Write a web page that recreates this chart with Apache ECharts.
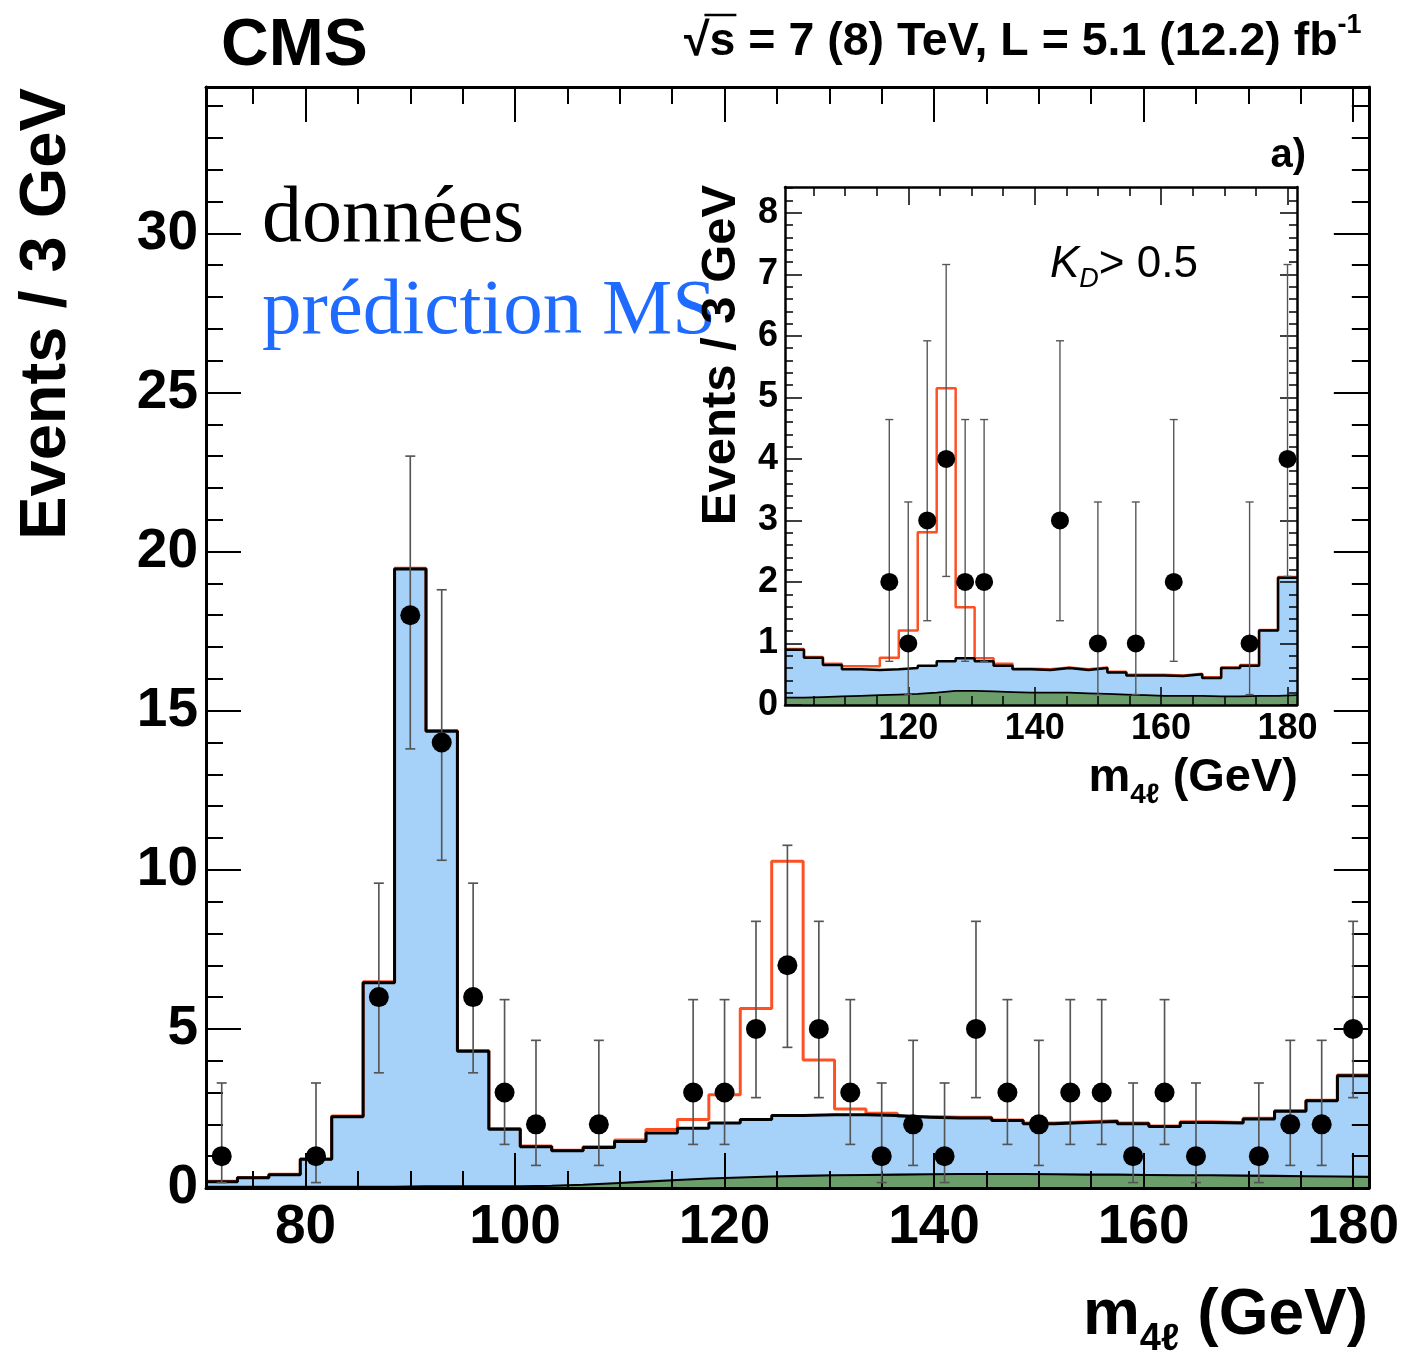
<!DOCTYPE html>
<html><head><meta charset="utf-8">
<script src="https://cdn.jsdelivr.net/npm/echarts@6/dist/echarts.min.js"></script>
<style>html,body{margin:0;padding:0;background:#fff}#c{width:1402px;height:1353px}</style>
</head><body><div id="c"></div><script>
// ---------------- DATA ----------------
const BIN_W = 3;
const mainCenters = [72,75,78,81,84,87,90,93,96,99,102,105,108,111,114,117,120,123,126,129,132,135,138,141,144,147,150,153,156,159,162,165,168,171,174,177,180];
const mainCounts  = [1,0,0,1,0,6,18,14,6,3,2,0,2,0,0,3,3,5,7,5,3,1,2,1,5,3,2,3,3,1,3,1,0,1,2,2,5];
const mainErrLow  = [0.17,null,null,0.17,null,3.62,13.8,10.3,3.62,1.37,0.71,null,0.71,null,null,1.37,1.37,2.84,4.42,2.84,1.37,0.17,0.71,0.17,2.84,1.37,0.71,1.37,1.37,0.17,1.37,0.17,null,0.17,0.71,0.71,2.84];
const mainErrHigh = [3.30,null,null,3.30,null,9.58,23.0,18.8,9.58,5.92,4.64,null,4.64,null,null,5.92,5.92,8.38,10.77,8.38,5.92,3.30,4.64,3.30,8.38,5.92,4.64,5.92,5.92,3.30,5.92,3.30,null,3.30,4.64,4.64,8.38];
const mainBkg     = [0.2,0.32,0.42,0.9,2.24,6.45,19.45,14.35,4.3,1.85,1.3,1.17,1.27,1.46,1.73,1.88,2.04,2.15,2.28,2.3,2.3,2.28,2.22,2.2,2.2,2.12,2.02,2.06,2.09,2.02,1.93,2.06,2.04,2.17,2.41,2.74,3.53];
const mainSignal  = [0.01,0.01,0.01,0.01,0.02,0.03,0.03,0.03,0.02,0.02,0.02,0.02,0.03,0.05,0.11,0.27,0.89,3.49,7.99,1.72,0.18,0.07,0.03,0.02,0.02,0.02,0.02,0.02,0.02,0.02,0.02,0.02,0.02,0.02,0.02,0.02,0.02];
const mainZX      = [0.04,0.04,0.04,0.04,0.04,0.04,0.05,0.05,0.05,0.05,0.07,0.1,0.15,0.2,0.25,0.3,0.33,0.36,0.38,0.4,0.41,0.42,0.43,0.44,0.44,0.44,0.43,0.42,0.42,0.41,0.4,0.4,0.39,0.38,0.37,0.36,0.35];

const insetCenters = [102,105,108,111,114,117,120,123,126,129,132,135,138,141,144,147,150,153,156,159,162,165,168,171,174,177,180];
const insetCounts  = [0,0,0,0,0,2,1,3,4,2,2,0,0,0,3,0,1,0,1,0,2,0,0,0,1,0,4];
const insetErrLow  = [null,null,null,null,null,0.71,0.17,1.37,2.09,0.71,0.71,null,null,null,1.37,null,0.17,null,0.17,null,0.71,null,null,null,0.17,null,2.09];
const insetErrHigh = [null,null,null,null,null,4.64,3.30,5.92,7.16,4.64,4.64,null,null,null,5.92,null,3.30,null,3.30,null,4.64,null,null,null,3.30,null,7.16];
const insetBkg     = [0.9,0.77,0.65,0.58,0.57,0.58,0.6,0.64,0.71,0.76,0.71,0.64,0.58,0.57,0.6,0.57,0.6,0.53,0.48,0.48,0.47,0.5,0.44,0.6,0.64,1.21,2.07];
const insetSignal  = [0.01,0.01,0.02,0.05,0.06,0.19,0.61,2.17,4.44,0.83,0.05,0.03,0.01,0.01,0.01,0.01,0.01,0.01,0.01,0.01,0.01,0.01,0.01,0.01,0.01,0.01,0.01];
const insetZX      = [0.12,0.13,0.14,0.15,0.16,0.17,0.18,0.2,0.23,0.23,0.22,0.21,0.2,0.2,0.2,0.19,0.18,0.17,0.16,0.15,0.15,0.15,0.14,0.14,0.15,0.15,0.16];

// tick labels
const mainXTicks  = [80,100,120,140,160,180];
const mainXMinor  = [75,85,90,95,105,110,115,125,130,135,145,150,155,165,170,175];
const mainYTicks  = [0,5,10,15,20,25,30];
const insetXTicks = [120,140,160,180];
const insetXMinor = [105,110,115,125,130,135,145,150,155,165,170,175];
const insetYTicks = [0,1,2,3,4,5,6,7,8];

const MAIN_X = [70.5, 181.5], MAIN_Y = [0, 34.6];
const INSET_X = [100.5, 181.5], INSET_Y = [0, 8.42];

// ---------------- HELPERS ----------------
const SANS = '"Liberation Sans", Arial, Helvetica, sans-serif';
const SERIF = '"Liberation Serif", "Times New Roman", serif';
const C_BLUE = '#a6d2fa', C_GREEN = '#6c9e6c', C_SIG = '#ff5024';

function range(a, b, s) { const r = []; for (let v = a; v <= b + 1e-9; v += s) r.push(+v.toFixed(4)); return r; }
const mainYMinor = range(0, 34, 1).filter(v => v % 5 !== 0);
const insetYMinor = range(0, 8.4, 0.2).filter(v => Math.abs(v - Math.round(v)) > 1e-6);

function steps(centers, vals, add) {
  const out = [];
  centers.forEach((c, i) => {
    const v = vals[i] + (add ? add[i] : 0);
    out.push([c - BIN_W / 2, v], [c + BIN_W / 2, v]);
  });
  return out;
}

function axis(grid, pos, ext, ticks, len, lineW, tickW, label) {
  return {
    type: 'value', gridIndex: grid, position: pos, min: ext[0], max: ext[1], z: 10,
    axisLine: { show: lineW > 0, onZero: false, lineStyle: { color: '#000', width: lineW } },
    axisTick: { show: true, inside: true, length: len, customValues: ticks, lineStyle: { color: '#000', width: tickW } },
    axisLabel: label ? Object.assign({ show: true, customValues: ticks, color: '#000', fontFamily: SANS, fontWeight: 'bold' }, label) : { show: false },
    splitLine: { show: false }, minorTick: { show: false }
  };
}

const xAxis = [
  axis(0, 'bottom', MAIN_X, mainXTicks, 35, 3, 2, { fontSize: 55, margin: 12 }),
  axis(0, 'bottom', MAIN_X, mainXMinor, 17, 0, 2),
  axis(0, 'top', MAIN_X, mainXTicks, 35, 3, 2),
  axis(0, 'top', MAIN_X, mainXMinor, 17, 0, 2),
  axis(1, 'bottom', INSET_X, insetXTicks, 18, 2.5, 1.5, { fontSize: 36, margin: 6 }),
  axis(1, 'bottom', INSET_X, insetXMinor, 9, 0, 1.5),
  axis(1, 'top', INSET_X, insetXTicks, 18, 2.5, 1.5),
  axis(1, 'top', INSET_X, insetXMinor, 9, 0, 1.5)
];
const yAxis = [
  axis(0, 'left', MAIN_Y, mainYTicks, 35, 3, 2, { fontSize: 55, margin: 8 }),
  axis(0, 'left', MAIN_Y, mainYMinor, 17, 0, 2),
  axis(0, 'right', MAIN_Y, mainYTicks, 35, 3, 2),
  axis(0, 'right', MAIN_Y, mainYMinor, 17, 0, 2),
  axis(1, 'left', INSET_Y, insetYTicks, 17, 2.5, 1.5, { fontSize: 36, margin: 7 }),
  axis(1, 'left', INSET_Y, insetYMinor, 8, 0, 1.5),
  axis(1, 'right', INSET_Y, insetYTicks, 17, 2.5, 1.5),
  axis(1, 'right', INSET_Y, insetYMinor, 8, 0, 1.5)
];

function errSeries(xi, yi, centers, lo, hi, cap, w) {
  const data = [];
  centers.forEach((c, i) => { if (lo[i] != null) data.push([c, lo[i], hi[i]]); });
  return {
    type: 'custom', xAxisIndex: xi, yAxisIndex: yi, z: 20, silent: true, data,
    renderItem: (params, api) => {
      const p1 = api.coord([api.value(0), api.value(1)]);
      const p2 = api.coord([api.value(0), api.value(2)]);
      const st = { stroke: '#555', lineWidth: w };
      return { type: 'group', children: [
        { type: 'line', shape: { x1: p1[0], y1: p1[1], x2: p2[0], y2: p2[1] }, style: st },
        { type: 'line', shape: { x1: p1[0] - cap, y1: p1[1], x2: p1[0] + cap, y2: p1[1] }, style: st },
        { type: 'line', shape: { x1: p2[0] - cap, y1: p2[1], x2: p2[0] + cap, y2: p2[1] }, style: st }
      ]};
    }
  };
}

function histSeries(xi, yi, centers, bkg, sig, zx, counts, lo, hi, lw, sym, cap) {
  return [
    { type: 'line', xAxisIndex: xi, yAxisIndex: yi, z: 2, data: steps(centers, bkg), showSymbol: false, silent: true,
      lineStyle: { width: 0 }, areaStyle: { color: C_BLUE, opacity: 1 } },
    { type: 'line', xAxisIndex: xi, yAxisIndex: yi, z: 3, data: steps(centers, zx), showSymbol: false, silent: true,
      lineStyle: { width: lw * 0.7, color: '#000' }, areaStyle: { color: C_GREEN, opacity: 1 } },
    { type: 'line', xAxisIndex: xi, yAxisIndex: yi, z: 4, data: steps(centers, bkg, sig), showSymbol: false, silent: true,
      lineStyle: { width: lw, color: C_SIG } },
    { type: 'line', xAxisIndex: xi, yAxisIndex: yi, z: 5, data: steps(centers, bkg), showSymbol: false, silent: true,
      lineStyle: { width: lw, color: '#000' } },
    errSeries(xi, yi, centers, lo, hi, cap, lw * 0.55),
    { type: 'scatter', xAxisIndex: xi, yAxisIndex: yi, z: 21, symbol: 'circle', symbolSize: sym, silent: true,
      itemStyle: { color: '#000', opacity: 1 },
      data: centers.map((c, i) => [c, counts[i]]).filter(d => d[1] > 0) }
  ];
}

// text layout helpers
const mctx = document.createElement('canvas').getContext('2d');
function tw(t, size, weight, style, fam) { mctx.font = `${style || 'normal'} ${weight || 'normal'} ${size}px ${fam || SANS}`; return mctx.measureText(t).width; }
function txt(t, x, y, size, o) {
  o = o || {};
  return { type: 'text', z: 50, silent: true,
    style: { text: t, x: x, y: y, fontSize: size, fontFamily: o.fam || SANS, fontWeight: o.weight || 'normal', fontStyle: o.style || 'normal',
      fill: o.color || '#000', textAlign: o.align || 'left', textVerticalAlign: 'middle' } };
}
function compose(parts, x, y, alignRight) {
  const widths = parts.map(p => tw(p.t, p.size, p.weight, p.style, p.fam));
  const total = widths.reduce((a, b) => a + b, 0);
  let cx = alignRight ? x - total : x;
  const els = [];
  parts.forEach((p, i) => {
    els.push(txt(p.t, cx, y + (p.dy || 0), p.size, { weight: p.weight, style: p.style, fam: p.fam, color: p.color }));
    cx += widths[i];
  });
  return els;
}

const graphics = [];
graphics.push(txt('CMS', 221, 47, 66, { weight: 'bold' }));
(function () {
  const x0 = 684, yc = 42, fs = 46.5;
  const wRoot = tw('√', fs, 'bold'), wS = tw('s', fs, 'bold');
  graphics.push(...compose([
    { t: '√', size: fs, weight: 'bold' },
    { t: 's = 7 (8) TeV, L = 5.1 (12.2) fb', size: fs, weight: 'bold' },
    { t: '-1', size: 27, weight: 'bold', dy: -16 }
  ], x0, yc, false));
  graphics.push({ type: 'line', z: 50, silent: true, shape: { x1: x0 + wRoot * 0.8, y1: 15, x2: x0 + wRoot + wS + 1, y2: 15 }, style: { stroke: '#000', lineWidth: 2.5 } });
})();
graphics.push(txt('a)', 1306, 156, 40, { weight: 'bold', align: 'right' }));
graphics.push(txt('données', 262, 220, 80, { fam: SERIF, color: '#000' }));
graphics.push(txt('prédiction MS', 262, 312, 79, { fam: SERIF, color: '#1f6bff' }));
graphics.push(...compose([
  { t: 'm', size: 64, weight: 'bold' },
  { t: '4ℓ', size: 38, weight: 'bold', dy: 24 },
  { t: ' (GeV)', size: 64, weight: 'bold' }
], 1368, 1316, true));
graphics.push(...compose([
  { t: 'm', size: 47, weight: 'bold' },
  { t: '4ℓ', size: 28, weight: 'bold', dy: 17 },
  { t: ' (GeV)', size: 47, weight: 'bold' }
], 1298, 778, true));
graphics.push(...compose([
  { t: 'K', size: 44, style: 'italic' },
  { t: 'D', size: 27, style: 'italic', dy: 14 },
  { t: '> 0.5', size: 44 }
], 1050, 265, false));
graphics.push({ type: 'text', z: 50, silent: true, x: 47, y: 314, rotation: Math.PI / 2,
  style: { text: 'Events / 3 GeV', x: 0, y: 0, fontSize: 65, fontWeight: 'bold', fontFamily: SANS, fill: '#000', textAlign: 'center', textVerticalAlign: 'middle' } });
graphics.push({ type: 'text', z: 50, silent: true, x: 721, y: 355, rotation: Math.PI / 2,
  style: { text: 'Events / 3 GeV', x: 0, y: 0, fontSize: 49, fontWeight: 'bold', fontFamily: SANS, fill: '#000', textAlign: 'center', textVerticalAlign: 'middle' } });

const option = {
  animation: false,
  backgroundColor: '#fff',
  grid: [
    { left: 206, top: 87, width: 1165, height: 1101, containLabel: false },
    { left: 785, top: 187, width: 512, height: 518, containLabel: false }
  ],
  xAxis, yAxis,
  series: [
    ...histSeries(0, 0, mainCenters, mainBkg, mainSignal, mainZX, mainCounts, mainErrLow, mainErrHigh, 3, 20, 5),
    ...histSeries(4, 4, insetCenters, insetBkg, insetSignal, insetZX, insetCounts, insetErrLow, insetErrHigh, 2.5, 18, 4)
  ],
  graphic: { elements: graphics }
};
const chart = echarts.init(document.getElementById('c'), null, { renderer: 'canvas' });
chart.setOption(option);
</script></body></html>
